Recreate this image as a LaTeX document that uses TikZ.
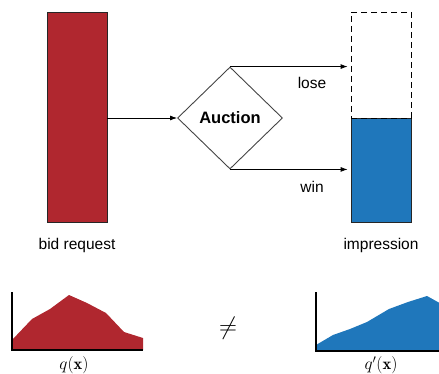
\documentclass[tikz,border=0pt]{standalone}
\usepackage{fontspec}
\usepackage{amsmath}
\newfontfamily\labelfont{Liberation Sans}
\usetikzlibrary{arrows.meta,shapes.geometric}

\definecolor{bidred}{HTML}{B0272F}
\definecolor{impblue}{HTML}{1F77BB}
\definecolor{edgegray}{HTML}{444444}

\tikzset{
  bar/.style={draw=black!85, line width=0.8pt, minimum width=60pt, inner sep=0pt},
  flow/.style={-{Latex[length=7pt,width=5pt]}, line width=0.8pt, black},
  caption/.style={font=\labelfont\fontsize{15.5}{18}\selectfont, inner sep=0pt},
  mathlabel/.style={font=\fontsize{16.5}{19}\selectfont, inner sep=0pt},
  axis/.style={line width=1.1pt, black},
}

\begin{document}
\begin{tikzpicture}[x=1pt, y=-1pt]
  \useasboundingbox (0,0) rectangle (439,374);

  % top row: request, auction, impression
  \node[bar, fill=bidred, minimum height=210pt] (req) at (77,117) {};
  \node[draw=edgegray, line width=0.9pt, shape=diamond, inner sep=0pt,
        minimum width=105pt, minimum height=102pt,
        font=\labelfont\bfseries\fontsize{16.5}{19}\selectfont] (auction) at (230,118) {Auction};
  \node[bar, fill=impblue, minimum height=104pt] (imp) at (381,170) {};
  \node[bar, draw=black, dash pattern=on 6pt off 4pt, minimum height=106pt] (empty) at (381,65) {};

  \draw[flow] (req.east |- auction.west) -- (auction.west);
  \draw[flow, shorten >=3pt] (auction.north) -- (auction.north -| empty.west);
  \draw[flow, shorten >=3pt] (auction.south) -- (auction.south -| imp.west);

  \node[caption] (lose) at (312,83) {lose};
  \node[caption] (win) at (312,187) {win};
  \node[caption] (reqlabel) at (77,245) {bid request};
  \node[caption] (implabel) at (381,245) {impression};

  % bottom row: the two distributions
  \fill[bidred] (12,350) -- (12,340) -- (32,319) -- (50,309) -- (69,295)
    -- (87,303) -- (106,313) -- (124,332) -- (143,338) -- (143,350) -- cycle;
  \draw[axis] (12,292) -- (12,350) -- (143,350);
  \node[mathlabel] (q) at (74,365) {$q(\mathbf{x})$};

  \node[font=\fontsize{24}{28}\selectfont, inner sep=0pt] (neq) at (228,328) {$\neq$};

  \begin{scope}
    \clip (0,0) rectangle (439,374);
    \fill[impblue] (316,351) -- (316,345) -- (333,335) -- (350,329) -- (367,322)
      -- (389,309) -- (408,302) -- (427,296) -- (445,306) -- (445,351) -- cycle;
    \draw[axis] (316,292) -- (316,351) -- (445,351);
  \end{scope}
  \node[mathlabel] (qp) at (381,365) {$q'(\mathbf{x})$};
\end{tikzpicture}
\end{document}
